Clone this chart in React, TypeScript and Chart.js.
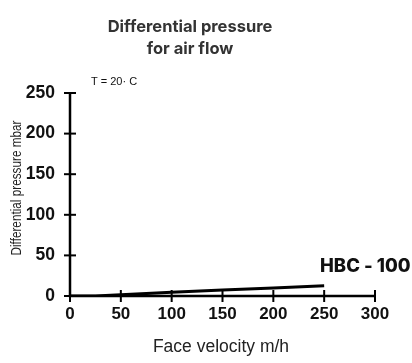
import React, { useEffect, useRef } from "react";
import { Chart, registerables } from "chart.js";

Chart.register(...registerables);

const velocity = [0, 25, 50, 100, 150, 200, 250];
const pressure = [0, 0, 1.5, 4.5, 7.5, 10, 12.5];
const xTicks = [0, 50, 100, 150, 200, 250, 300];
const yTicks = [0, 50, 100, 150, 200, 250];
const titleLines = ["Differential pressure", "for air flow"];
const seriesLabel = "HBC - 100";
const noteText = "T = 20\u00b7 C";
const xTitle = "Face velocity m/h";
const yTitle = "Differential pressure mbar";

const textPlugin = {
  id: "texts",
  afterDraw(chart: any) {
    const ctx = chart.ctx as CanvasRenderingContext2D;
    const xs = chart.scales.x;
    const ys = chart.scales.y;
    ctx.save();
    // axes lines
    ctx.strokeStyle = "#000";
    ctx.lineWidth = 2.5;
    ctx.beginPath();
    ctx.moveTo(xs.getPixelForValue(0), ys.getPixelForValue(250));
    ctx.lineTo(xs.getPixelForValue(0), ys.getPixelForValue(0));
    ctx.lineTo(xs.getPixelForValue(300), ys.getPixelForValue(0));
    ctx.stroke();
    ctx.lineWidth = 2;
    for (const v of yTicks) {
      const y = ys.getPixelForValue(v);
      const x = xs.getPixelForValue(0);
      ctx.beginPath();
      ctx.moveTo(x - 6, y);
      ctx.lineTo(x + 6, y);
      ctx.stroke();
    }
    for (const v of xTicks) {
      const x = xs.getPixelForValue(v);
      const y = ys.getPixelForValue(0);
      ctx.beginPath();
      ctx.moveTo(x, y - 6);
      ctx.lineTo(x, y + 6);
      ctx.stroke();
    }
    // title
    ctx.fillStyle = "#333";
    ctx.font = "bold 16.5px Inter";
    ctx.textAlign = "center";
    ctx.textBaseline = "middle";
    ctx.fillText(titleLines[0], 190, 27);
    ctx.fillText(titleLines[1], 190, 49);
    // note
    ctx.fillStyle = "#111";
    ctx.font = "11px 'Liberation Sans'";
    ctx.textAlign = "left";
    ctx.fillText(noteText, 91, 82);
    // series label
    ctx.fillStyle = "#111";
    ctx.font = "800 18.5px Inter";
    ctx.textAlign = "left";
    ctx.fillText(seriesLabel, 320, 266);
    // axis titles
    ctx.fillStyle = "#222";
    ctx.font = "17.5px 'Liberation Sans'";
    ctx.textAlign = "center";
    ctx.fillText(xTitle, 221, 347);
    ctx.save();
    ctx.translate(17, 188);
    ctx.rotate(-Math.PI / 2);
    ctx.font = "15px 'Liberation Sans'";
    const w = ctx.measureText(yTitle).width;
    ctx.scale(135 / w, 1);
    ctx.fillText(yTitle, 0, 0);
    ctx.restore();
    ctx.restore();
  },
};

export default function App() {
  const ref = useRef<HTMLCanvasElement>(null);
  useEffect(() => {
    if (!ref.current) return;
    const chart = new Chart(ref.current, {
      type: "line",
      data: {
        datasets: [
          {
            label: seriesLabel,
            data: velocity.map((v, i) => ({ x: v, y: pressure[i] })),
            borderColor: "#000",
            borderWidth: 3,
            pointRadius: 0,
            tension: 0,
          },
        ],
      },
      options: {
        animation: false,
        responsive: false,
        layout: { padding: { left: 0, right: 37, top: 93, bottom: 0 } },
        plugins: {
          legend: { display: false },
          title: { display: false },
          tooltip: { enabled: false },
        },
        scales: {
          x: {
            type: "linear",
            min: 0,
            max: 300,
            afterFit: (s: any) => {
              s.height = 67;
            },
            afterBuildTicks: (s: any) => {
              s.ticks = xTicks.map((v) => ({ value: v }));
            },
            grid: { display: false },
            border: { display: false },
            ticks: {
              color: "#111",
              font: { family: "'Liberation Sans'", size: 17, weight: "bold" },
              padding: 0,
              maxRotation: 0,
              autoSkip: false,
            },
          },
          y: {
            type: "linear",
            min: 0,
            max: 250,
            afterFit: (s: any) => {
              s.width = 70;
            },
            afterBuildTicks: (s: any) => {
              s.ticks = yTicks.map((v) => ({ value: v }));
            },
            grid: { display: false },
            border: { display: false },
            ticks: {
              color: "#111",
              font: { family: "'Liberation Sans'", size: 17.5, weight: "bold" },
              padding: 7,
            },
          },
        },
      },
      plugins: [textPlugin],
    });
    return () => chart.destroy();
  }, []);
  return (
    <div style={{ position: "absolute", left: 0, top: 0, width: 412, height: 363, background: "#fff" }}>
      <canvas ref={ref} width={412} height={363} />
    </div>
  );
}
